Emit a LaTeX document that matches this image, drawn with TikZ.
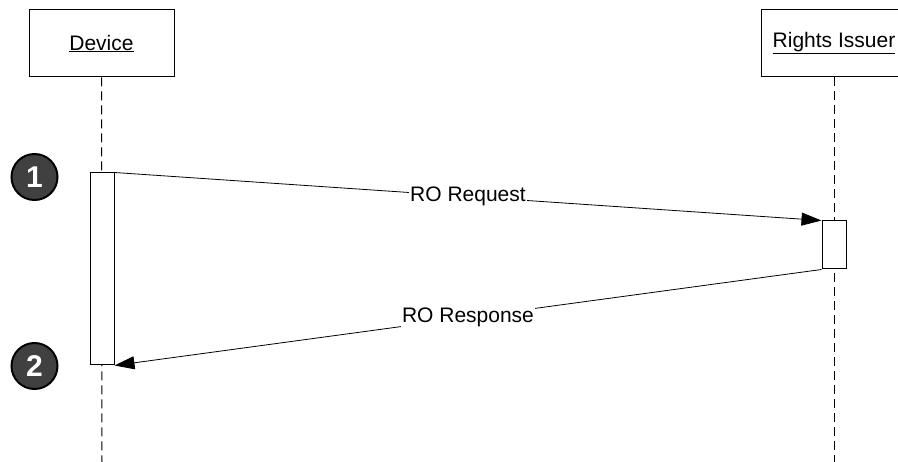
\documentclass[tikz,border=0pt]{standalone}
\usepackage{fontspec}
\setmainfont{Liberation Sans}
\usetikzlibrary{arrows.meta,positioning}
\definecolor{markgray}{RGB}{64,64,64}

\begin{document}
\begin{tikzpicture}[x=1pt, y=-1pt, font=\fontsize{21}{25}\selectfont,
        objbox/.style={draw, line width=1pt, fill=white, minimum width=145pt, minimum height=67pt},
        actbox/.style={draw, line width=1pt, fill=white, minimum width=24pt, inner sep=0pt},
        lifeline/.style={line width=1pt, dash pattern=on 9pt off 5pt},
        msg/.style={line width=0.8pt, -{Triangle[length=20pt,width=13pt]}},
        msglabel/.style={fill=white, inner sep=1pt},
        stepmark/.style={circle, draw=black, line width=2pt, fill=markgray, text=white, minimum size=46pt, inner sep=0pt, font=\fontsize{30}{32}\selectfont\bfseries}]
        \useasboundingbox (0,0) rectangle (898,462);
        
        \node[objbox] (device) at (101.5,43.5) {\underline{Device}};
        \node[objbox] (issuer) at (834,43.5) {\underline{Rights Issuer}};
        
        \coordinate (devend) at (102,462);
        \coordinate (issend) at (834,462);
        \draw[lifeline] (device.south) -- (devend);
        \draw[lifeline] (issuer.south) -- (issend);
        
        \node[actbox, minimum height=192pt] (devact) at (102,269) {};
        \node[actbox, minimum height=48pt] (issact) at (834,245) {};
        
        \node[stepmark] (stepone) at (34.5,177) {1};
        \node[stepmark] (steptwo) at (34.5,366) {2};
        
        \draw[msg] (devact.north east) -- node[msglabel] {RO Request} (issact.north west);
        \draw[msg] (issact.south west) -- node[msglabel] {RO Response} (devact.south east);
    \end{tikzpicture}
\end{document}
